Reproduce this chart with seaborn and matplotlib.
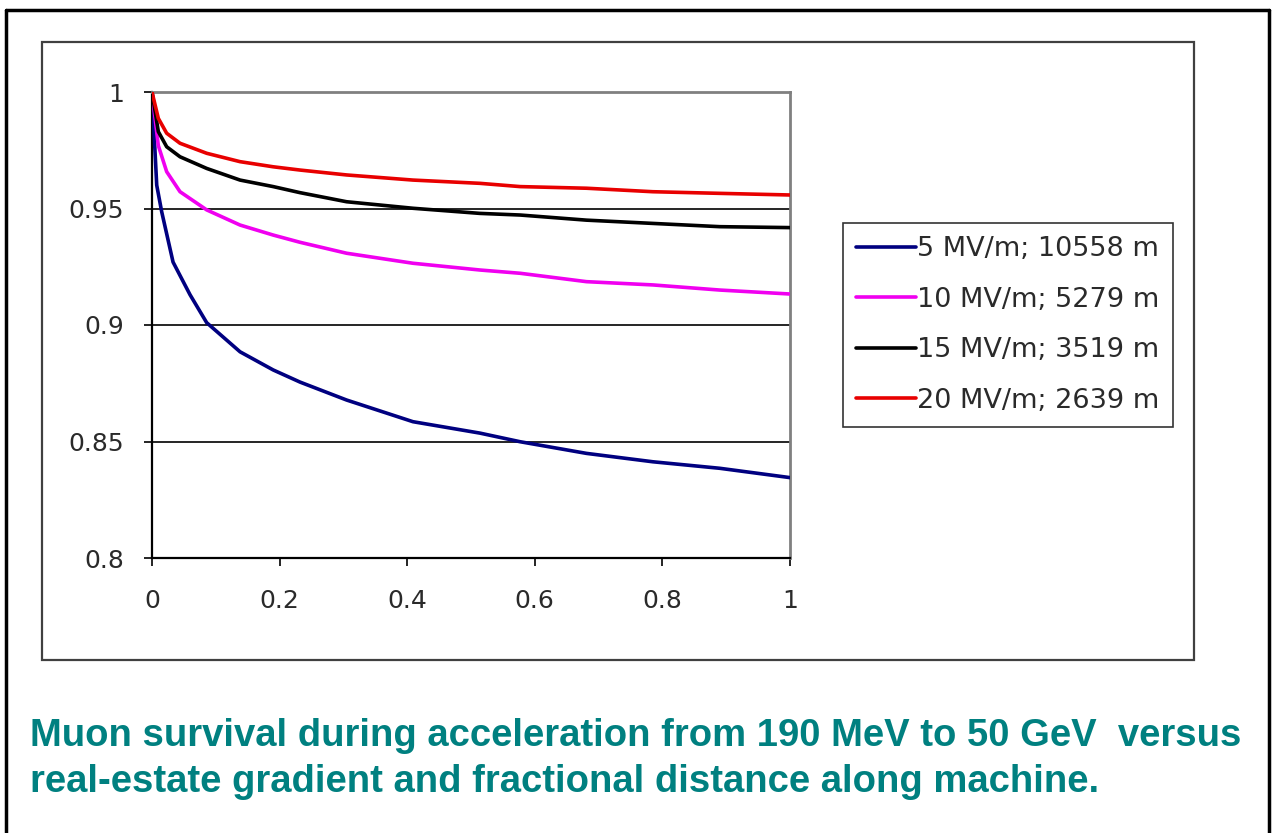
import matplotlib

matplotlib.use("Agg")

import matplotlib.pyplot as plt
import numpy as np
import pandas as pd
import seaborn as sns
from matplotlib.lines import Line2D
from matplotlib.patches import Rectangle


# fractional distance along machine
x_early = [0.0, 0.0074, 0.0152, 0.033, 0.0596, 0.0857, 0.138, 0.19, 0.232,
           0.305, 0.409, 0.514, 0.577, 0.681, 0.785, 0.890, 1.0]
x_late = [0.0, 0.0099, 0.023, 0.0439, 0.0857, 0.138, 0.19, 0.232,
          0.305, 0.409, 0.514, 0.577, 0.681, 0.785, 0.890, 1.0]

# survival fraction for each gradient
survival_5 = [1.0, 0.960, 0.9486, 0.927, 0.913, 0.901, 0.8885, 0.8807, 0.8755,
              0.8678, 0.8585, 0.8536, 0.8499, 0.8449, 0.8413, 0.8385, 0.8345]
survival_10 = [1.0, 0.977, 0.9658, 0.9572, 0.9494, 0.9429, 0.9386, 0.9355,
               0.9308, 0.9265, 0.9236, 0.9222, 0.9186, 0.9172, 0.915, 0.9133]
survival_15 = [1.0, 0.983, 0.9765, 0.9722, 0.9672, 0.9622, 0.9594, 0.9568,
               0.9529, 0.9501, 0.9479, 0.9472, 0.945, 0.9436, 0.9422, 0.9418]
survival_20 = [1.0, 0.9887, 0.9823, 0.978, 0.9737, 0.9701, 0.9679, 0.9665,
               0.9644, 0.9622, 0.9608, 0.9594, 0.9587, 0.9572, 0.9565, 0.9558]

series_labels = [
    "5 MV/m; 10558 m",
    "10 MV/m; 5279 m",
    "15 MV/m; 3519 m",
    "20 MV/m; 2639 m",
]
series_colors = ["#000080", "#F000F0", "#000000", "#E80000"]

y_ticks = [0.8, 0.85, 0.9, 0.95, 1.0]
y_tick_labels = ["0.8", "0.85", "0.9", "0.95", "1"]
x_ticks = [0, 0.2, 0.4, 0.6, 0.8, 1.0]
x_tick_labels = ["0", "0.2", "0.4", "0.6", "0.8", "1"]

caption_lines = [
    "Muon survival during acceleration from 190 MeV to 50 GeV  versus",
    "real-estate gradient and fractional distance along machine.",
]

CAPTION_COLOR = "#008080"


def build_frame() -> pd.DataFrame:
    """Long table of all four curves."""
    parts = []
    for label, xs, ys in zip(
        series_labels,
        [x_early, x_late, x_late, x_late],
        [survival_5, survival_10, survival_15, survival_20],
    ):
        parts.append(pd.DataFrame({"distance": xs, "survival": ys, "series": label}))
    return pd.concat(parts, ignore_index=True)


def main() -> None:
    sns.set_style("white")
    plt.rcParams["font.family"] = ["DejaVu Sans"]

    df = build_frame()

    fig = plt.figure(figsize=(12.73, 8.33), dpi=100)
    ax = fig.add_axes([152 / 1273, 275 / 833, 638 / 1273, 466 / 833])

    for y in [0.85, 0.9, 0.95]:
        ax.axhline(y, color="black", lw=1.2, zorder=1)

    sns.lineplot(
        data=df,
        x="distance",
        y="survival",
        hue="series",
        hue_order=series_labels,
        palette=series_colors,
        estimator=None,
        sort=False,
        linewidth=2.6,
        ax=ax,
        zorder=3,
    )

    ax.set_xlim(0, 1)
    ax.set_ylim(0.8, 1.0)
    ax.set_xticks(x_ticks)
    ax.set_xticklabels(x_tick_labels)
    ax.set_yticks(y_ticks)
    ax.set_yticklabels(y_tick_labels)
    ax.set_xlabel("")
    ax.set_ylabel("")
    ax.tick_params(
        axis="both",
        direction="out",
        length=6,
        width=1.2,
        color="black",
        labelsize=18,
        labelcolor="#2a2a2a",
        left=True,
        bottom=True,
    )
    ax.tick_params(axis="y", pad=14)
    ax.tick_params(axis="x", pad=16)

    for side in ["left", "bottom"]:
        ax.spines[side].set_color("black")
        ax.spines[side].set_linewidth(1.6)
    for side in ["top", "right"]:
        ax.spines[side].set_color("#808080")
        ax.spines[side].set_linewidth(2.0)

    legend = ax.legend(
        loc="upper left",
        bbox_to_anchor=(1.083, 0.719),
        borderaxespad=0,
        frameon=True,
        fancybox=False,
        fontsize=19.5,
        handlelength=2.2,
        handletextpad=0.05,
        labelspacing=0.9,
        borderpad=0.5,
        title=None,
    )
    legend.get_frame().set_edgecolor("black")
    legend.get_frame().set_linewidth(1.2)
    for text in legend.get_texts():
        text.set_color("#2a2a2a")

    # chart area border
    fig.add_artist(
        Rectangle(
            (42 / 1273, 173 / 833),
            1152 / 1273,
            618 / 833,
            transform=fig.transFigure,
            fill=False,
            edgecolor="#404040",
            linewidth=1.6,
        )
    )

    # slide frame
    frame_kw = dict(transform=fig.transFigure, color="black", linewidth=2.5)
    fig.add_artist(Line2D([6 / 1273, 1269 / 1273], [823 / 833, 823 / 833], **frame_kw))
    fig.add_artist(Line2D([6 / 1273, 6 / 1273], [0, 823 / 833], **frame_kw))
    fig.add_artist(Line2D([1269 / 1273, 1269 / 1273], [0, 823 / 833], **frame_kw))

    for i, line in enumerate(caption_lines):
        fig.text(
            30 / 1273,
            (833 - 736 - i * 46) / 833,
            line,
            color=CAPTION_COLOR,
            fontsize=27.5,
            fontweight="bold",
            family=["Liberation Sans", "DejaVu Sans"],
            va="center",
            ha="left",
        )

    fig.savefig("out.png", dpi=100)
    plt.close(fig)


if __name__ == "__main__":
    main()
